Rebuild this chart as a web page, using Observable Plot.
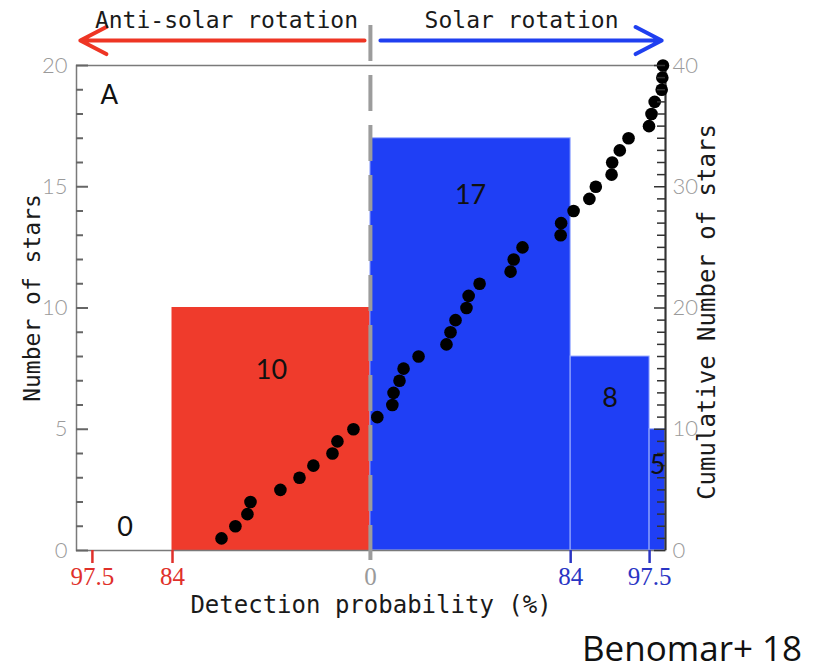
<!DOCTYPE html>
<html>
<head>
<meta charset="utf-8">
<script src="https://cdn.jsdelivr.net/npm/d3@7"></script>
<script src="https://cdn.jsdelivr.net/npm/@observablehq/plot@0.6"></script>
<style>
  body { margin: 0; background: #fff; }
  #wrap { position: relative; width: 818px; height: 672px; }
  #cap { position: absolute; left: 582px; top: 630px; font-family: "Open Sans", "Noto Sans", sans-serif; font-size: 35px; line-height: 1; color: #111; }
</style>
</head>
<body>
<div id="wrap"><div id="chart"></div><div id="cap">Benomar+ 18</div></div>
<script>
// ---- Histogram bins (signed detection probability, %; negative = anti-solar) ----
const binLo    = [-100, -84, 0, 84, 97.5];
const binHi    = [-84, 0, 84, 97.5, 100];
const binCount = [0, 10, 17, 8, 5];
const binSide  = ["anti", "anti", "solar", "solar", "solar"];
const binLabelDy = [-23, 62, 57, 42, 36];

// ---- Individual stars (cumulative curve) ----
const starProb = [-63.2, -57.3, -52.2, -50.9, -38.2, -30.1, -24.2, -16.1, -14.0, -7.2,
                  2.9, 9.2, 9.7, 12.2, 13.9, 20.2, 31.9, 33.6, 35.7, 40.3,
                  41.2, 45.8, 58.8, 60.1, 63.8, 79.8, 80.0,
                  84.5, 87.2, 88.3, 91.0, 91.1, 92.4, 93.9, 97.4,
                  97.8, 98.3, 99.4, 99.5, 99.6];
const starCum  = [1, 2, 3, 4, 5, 6, 7, 8, 9, 10, 11, 12, 13, 14, 15, 16, 17, 18, 19, 20,
                  21, 22, 23, 24, 25, 26, 27, 28, 29, 30, 31, 32, 33, 34, 35, 36, 37, 38, 39, 40];

// ---- Axis ticks ----
const antiTicks = [-97.5, -84];
const solarTicks = [84, 97.5];
const leftTicks = [0, 5, 10, 15, 20];
const rightTickLabels = [0, 10, 20, 30, 40];

// ---- Piecewise x axis breaks (fraction of the frame width) ----
const xBreaks = [-100, -97.5, -84, 0, 84, 97.5, 100];
const xBreakFrac = [0, 0.027, 0.163, 0.499, 0.839, 0.973, 1];

// ---- Annotations (data units) ----
const arrowFrom = [-2.5, 4.2];
const arrowTo = [-99.4, 99.4];
const arrowColor = ["#ee3524", "#1f3ff0"];
const arrowY = 21.03;
const arrowText = ["Anti-solar rotation", "Solar rotation"];
const arrowTextX = [-61.1, 63.4];
const arrowTextY = 21.86;
const dividerTop = 21.65, dividerBottom = -0.41;

const RED = "#ef3b2c", BLUE = "#1f3ff5";
const W = 818, H = 620, mL = 76, mR = 153, mT = 65, mB = 70;
const xRange = xBreakFrac.map(f => mL + f * (W - mL - mR));
const xs = d3.scaleLinear().domain(xBreaks).range(xRange);

const bins = binLo.map((lo, i) => ({lo, hi: binHi[i], count: binCount[i], side: binSide[i], dy: binLabelDy[i]}));
const stars = starProb.map((p, i) => ({p, cum: starCum[i]}));
const arrows = arrowFrom.map((f, i) => ({from: f, to: arrowTo[i], color: arrowColor[i], text: arrowText[i], tx: arrowTextX[i]}));
const unitsLeft = d3.range(0, 21, 1);
const unitsRight = d3.range(0, 41, 1);

// tick ends (inward), converted from pixel lengths through the x scale
const xL = xBreaks[0], xR = xBreaks[xBreaks.length - 1];
const xLminor = xs.invert(xs(xL) + 7), xLmajor = xs.invert(xs(xL) + 12);
const xRminor = xs.invert(xs(xR) - 8), xRmajor = xs.invert(xs(xR) - 11);

const mono = "DejaVu Sans Mono";
const tickFont = "Lato";

const marks = [
  // bars
  Plot.rect(bins.filter(b => b.count > 0), {
    x1: "lo", x2: "hi", y1: 0, y2: "count",
    fill: d => d.side === "anti" ? RED : BLUE,
    stroke: d => d.side === "anti" ? RED : "#9fb0ff",
    strokeWidth: 1
  }),
  // frame
  Plot.frame({stroke: "#7a7a7a", strokeWidth: 1.5}),
  Plot.ruleX([xR], {stroke: "#333", strokeWidth: 2}),
  // divider
  Plot.ruleX([0], {y1: dividerTop, y2: dividerBottom, stroke: "#9c9c9c", strokeWidth: 4, strokeDasharray: "36,14"}),
  // dots
  Plot.dot(stars, {x: "p", y: d => d.cum / 2, r: 6.3, fill: "#000"}),
  // arrows
  Plot.arrow(arrows, {x1: "from", x2: "to", y1: arrowY, y2: arrowY, stroke: "color", strokeWidth: 4, headLength: 11, headAngle: 55}),
  Plot.text(arrows, {x: "tx", y: arrowTextY, text: "text", fontFamily: mono, fontSize: 23, fill: "#1a1a1a"}),
  // "A"
  Plot.text(["A"], {frameAnchor: "top-left", dx: 24, dy: 30, lineAnchor: "middle", fontFamily: tickFont, fontSize: 26, fill: "#111"}),
  // axis titles
  Plot.text(["Number of stars"], {frameAnchor: "left", dx: -44, dy: -10, rotate: -90, textAnchor: "middle", lineAnchor: "middle", fontFamily: mono, fontSize: 23, fill: "#1a1a1a"}),
  Plot.text(["Cumulative Number of stars"], {frameAnchor: "right", dx: 42, dy: 4, rotate: -90, textAnchor: "middle", lineAnchor: "middle", fontFamily: mono, fontSize: 24, fill: "#1a1a1a"}),
  Plot.text(["Detection probability (%)"], {frameAnchor: "bottom", dy: 55, lineAnchor: "middle", fontFamily: mono, fontSize: 24, fill: "#1a1a1a"}),
  // y labels
  Plot.axisY({anchor: "left", ticks: leftTicks, tickSize: 0, tickPadding: 9, color: "#9a9a9a", fontSize: 22, fontFamily: tickFont, fontWeight: 300, label: null}),
  Plot.axisY({anchor: "right", ticks: rightTickLabels.map(v => v / 2), tickFormat: d => String(d * 2), tickSize: 0, tickPadding: 7, color: "#9a9a9a", fontSize: 22, fontFamily: tickFont, fontWeight: 300, label: null}),
  // x axes
  Plot.axisX({ticks: antiTicks, tickFormat: d => String(Math.abs(d)), tickSize: 13, tickPadding: 4, color: "#e0302a", strokeWidth: 2.5, fontSize: 25, fontFamily: "Liberation Serif", label: null}),
  Plot.axisX({ticks: [0], tickFormat: d => "0", tickSize: 0, tickPadding: 17, color: "#9a9a9a", fontSize: 25, fontFamily: "Liberation Serif", label: null}),
  Plot.axisX({ticks: solarTicks, tickFormat: d => String(d), tickSize: 13, tickPadding: 4, color: "#2a35c4", strokeWidth: 2.5, fontSize: 25, fontFamily: "Liberation Serif", label: null}),
  // inward ticks (left: 0–20 scale, right: cumulative 0–40 scale)
  Plot.ruleY(unitsLeft.filter(v => v % 5 !== 0), {y: d => d, x1: xL, x2: xLminor, stroke: "#666", strokeWidth: 2}),
  Plot.ruleY(unitsLeft.filter(v => v % 5 === 0), {y: d => d, x1: xL, x2: xLmajor, stroke: "#666", strokeWidth: 2}),
  Plot.ruleY(unitsRight.filter(v => v % 10 !== 0), {y: d => d / 2, x1: xRminor, x2: xR, stroke: "#333", strokeWidth: 1.5}),
  Plot.ruleY(unitsRight.filter(v => v % 10 === 0), {y: d => d / 2, x1: xRmajor, x2: xR, stroke: "#333", strokeWidth: 1.5})
];

// bar count labels
bins.forEach(b => {
  marks.push(Plot.text([b], {x: d => (d.lo + d.hi) / 2, y: "count", text: d => String(d.count), dy: b.dy, fontFamily: tickFont, fontSize: 27, fill: "#111", clip: "frame"}));
});

const chart = Plot.plot({
  width: W, height: H,
  marginLeft: mL, marginRight: mR, marginTop: mT, marginBottom: mB,
  style: {background: "white", overflow: "visible", fontFamily: tickFont},
  x: {type: "linear", domain: xBreaks, range: xRange},
  y: {domain: [0, 20]},
  marks
});
document.getElementById("chart").appendChild(chart);
</script>
</body>
</html>
